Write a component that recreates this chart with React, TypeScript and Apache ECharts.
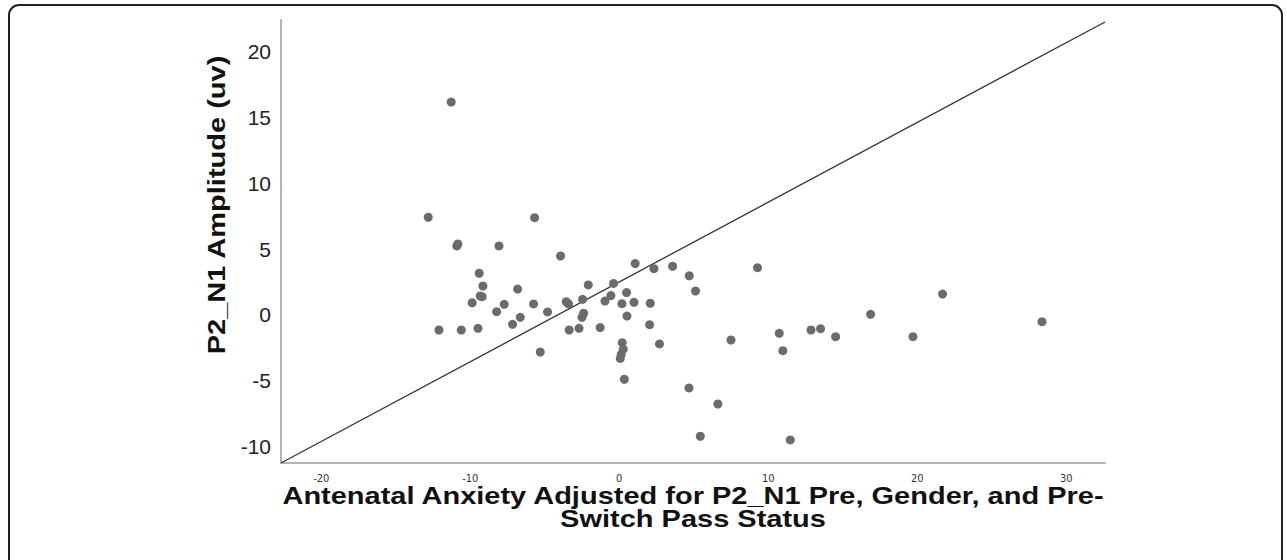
import React, { useEffect, useRef } from "react";
import * as echarts from "echarts";

const xTicksRange = [-22.7, 32.6];
const yTicksRange = [-11.24, 22.4];

const xValues = [
  -11.28, -12.82, -5.68, -10.83, -10.9, -8.07, -3.94, -9.4, -9.15, -9.33, -9.2, -9.87,
  -6.82, -7.72, -8.23, -5.75, -4.81, -6.64, -7.16, -12.1, -10.6, -9.48, -3.56, -3.4,
  -3.36, -2.7, -5.3, -2.46, -2.08, -2.39, -2.5, -1.28, -0.96, -0.56, -0.38, 1.07,
  0.49, 0.18, 0.99, 0.52, 2.08, 2.04, 2.33, 3.58, 4.7, 5.12, 2.7, 7.5,
  0.2, 0.27, 0.13, 0.07, 0.34, 4.68, 6.62, 5.44, 9.28, 10.74, 10.98, 12.87,
  13.51, 14.52, 11.48, 16.87, 19.71, 21.7, 28.37,
];
const yValues = [
  16.17, 7.42, 7.39, 5.39, 5.24, 5.24, 4.48, 3.17, 2.2, 1.44, 1.39, 0.93,
  1.97, 0.81, 0.25, 0.84, 0.23, -0.18, -0.71, -1.14, -1.14, -1.01, 1.01, 0.84,
  -1.14, -1.01, -2.81, 1.19, 2.28, 0.13, -0.18, -0.96, 1.06, 1.47, 2.4, 3.9,
  1.7, 0.86, 0.96, -0.08, 0.89, -0.74, 3.52, 3.7, 2.98, 1.82, -2.2, -1.9,
  -2.1, -2.6, -3.0, -3.3, -4.88, -5.54, -6.76, -9.21, 3.59, -1.39, -2.71, -1.14,
  -1.04, -1.65, -9.49, 0.05, -1.65, 1.59, -0.51,
];
const refLine = [
  [-22.7, -11.24],
  [32.6, 22.25],
];

const yTitle = "P2_N1 Amplitude (uv)";
const xTitleLines = ["Antenatal Anxiety Adjusted for P2_N1 Pre, Gender, and Pre-", "Switch Pass Status"];

export default function App() {
  const ref = useRef<HTMLDivElement>(null);
  useEffect(() => {
    if (!ref.current) return;
    const chart = echarts.init(ref.current, null, { renderer: "svg" });
    const points = xValues.map((x, i) => [x, yValues[i]]);
    const titleFont = "bold 29px 'Liberation Sans', Arial, sans-serif";
    chart.setOption({
      animation: false,
      backgroundColor: "#ffffff",
      grid: { left: 281, right: 182, top: 20, bottom: 97 },
      xAxis: {
        type: "value",
        min: xTicksRange[0],
        max: xTicksRange[1],
        splitNumber: 5,
        axisLine: { show: true, onZero: false, lineStyle: { color: "#b4b4b4", width: 2 } },
        axisTick: { show: false },
        splitLine: { show: false },
        axisLabel: {
          showMinLabel: false,
          showMaxLabel: false,
          margin: 10,
          fontSize: 11,
          color: "#333",
          fontFamily: "'Liberation Sans Narrow', 'Arial Narrow', 'DejaVu Sans Condensed', sans-serif",
        },
      },
      yAxis: {
        type: "value",
        min: yTicksRange[0],
        max: yTicksRange[1],
        splitNumber: 7,
        axisLine: { show: true, onZero: false, lineStyle: { color: "#b4b4b4", width: 2 } },
        axisTick: { show: false },
        splitLine: { show: false },
        axisLabel: {
          showMinLabel: false,
          showMaxLabel: false,
          margin: 10,
          fontSize: 21,
          color: "#222",
          fontFamily: "'Liberation Sans', Arial, sans-serif",
        },
      },
      graphic: [
        {
          type: "rect",
          shape: { x: 9, y: 5, width: 1273, height: 620, r: [10, 10, 0, 0] },
          style: { fill: "none", stroke: "#222", lineWidth: 2 },
          silent: true,
        },
        {
          type: "text",
          x: 217,
          y: 205,
          rotation: Math.PI / 2,
          scaleY: 0.85,
          style: {
            text: yTitle,
            font: titleFont,
            fill: "#111",
            textAlign: "center",
            textVerticalAlign: "middle",
          },
        },
        {
          type: "text",
          x: 693,
          y: 496,
          scaleY: 0.85,
          style: {
            text: xTitleLines[0],
            font: titleFont,
            fill: "#111",
            textAlign: "center",
            textVerticalAlign: "middle",
          },
        },
        {
          type: "text",
          x: 693,
          y: 519,
          scaleY: 0.85,
          style: {
            text: xTitleLines[1],
            font: titleFont,
            fill: "#111",
            textAlign: "center",
            textVerticalAlign: "middle",
          },
        },
      ],
      series: [
        {
          type: "line",
          data: refLine,
          symbol: "none",
          lineStyle: { color: "#333", width: 1.3 },
          silent: true,
          z: 2,
        },
        {
          type: "scatter",
          data: points,
          symbol: "circle",
          symbolSize: 9,
          itemStyle: { color: "#6b6b6b", opacity: 1 },
          z: 3,
        },
      ],
    });
    return () => chart.dispose();
  }, []);
  return (
    <div
      ref={ref}
      style={{ position: "absolute", left: 0, top: 0, width: 1287, height: 560 }}
    />
  );
}
